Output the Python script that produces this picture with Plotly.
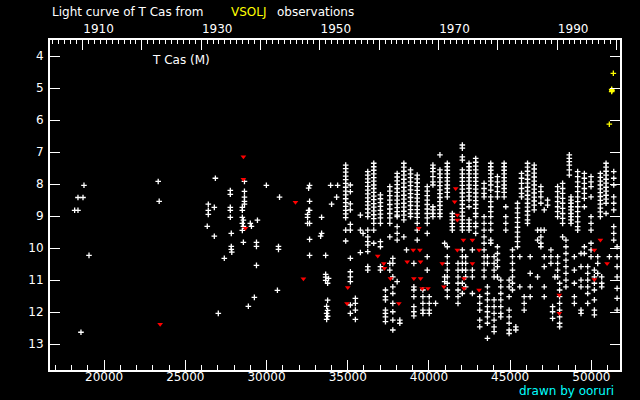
import plotly.graph_objects as go

# ---------------- data (JD - 2400000, visual magnitude) ----------------
early_jd = [18760, 18390, 18700, 18185, 18390, 19070, 18575,
            23330, 23390,
            26850, 26415, 26415, 26415, 26785, 26350, 26785, 27400, 27030,
            27770, 27770, 27770, 27770, 27770, 27830, 27830, 27830, 27860,
            28640, 28640, 28640, 28640, 28640, 28510, 28510, 28510, 28575, 28510, 28575, 28510, 28575,
            29000, 29070, 29440, 29380, 29380, 29380, 29250, 28880,
            29990, 30800, 30735, 30735, 30670,
            32650, 32590, 32650, 32590, 32650, 32525, 32525, 32525, 32650, 32650, 32650,
            33390, 33390, 33330, 33640,
            33945, 34375, 34315, 34005,
            33640, 33640, 33640, 33760, 33820,
            33760, 33700, 33760, 33700, 33760, 33700]
early_mag = [8.04, 8.42, 8.42, 8.82, 8.82, 10.23, 12.63,
             7.92, 8.54,
             7.82, 8.63, 8.82, 8.95, 8.73, 9.32, 9.63, 10.32, 12.04,
             8.20, 8.32, 8.73, 8.82, 9.04, 9.54, 9.95, 10.04, 10.13,
             7.92, 8.23, 8.41, 8.54, 8.63, 8.73, 8.82, 9.04, 9.13, 9.23, 9.32, 9.45, 9.82,
             9.23, 9.32, 9.13, 9.82, 9.95, 10.54, 11.54, 11.82,
             8.04, 8.41, 9.95, 10.04, 11.32,
             8.04, 8.13, 8.54, 8.82, 8.82, 8.95, 9.04, 9.23, 9.23, 9.73, 10.23,
             9.04, 9.54, 9.63, 10.23,
             8.04, 8.04, 8.41, 8.63,
             10.82, 10.91, 11.01, 11.10, 10.95,
             11.63, 11.82, 11.95, 12.04, 12.13, 12.23]

# observing seasons after 1954: (JD, magnitudes estimated that season)
seasons = [
    (34873, [7.41, 7.52, 7.63, 7.75, 7.86, 7.98, 8.10, 8.22, 8.34, 8.46, 8.58, 8.70, 8.82, 8.93, 9.05, 9.44, 9.78]),
    (35161, [8.03, 8.24, 8.62, 8.81, 9.26, 9.44, 10.32, 10.74, 10.90, 11.05, 11.78, 12.04]),
    (35470, [11.57, 11.73, 11.94, 12.23]),
    (35778, [8.97, 9.44, 10.14]),
    (35943, [9.54]),
    (36231, [7.61, 7.72, 7.84, 7.95, 8.07, 8.19, 8.31, 8.43, 8.55, 8.66, 8.78, 8.90, 9.02, 9.44, 9.65, 9.80, 9.91, 10.11, 10.58, 10.69]),
    (36601, [7.35, 7.46, 7.57, 7.68, 7.80, 7.91, 8.03, 8.14, 8.26, 8.38, 8.49, 8.61, 8.72, 8.84, 8.96, 9.08, 9.23, 9.44, 9.85]),
    (37013, [8.34, 8.46, 8.58, 8.70, 8.82, 8.94, 9.06, 9.23, 9.80, 9.96, 10.58, 10.69]),
    (37322, [11.31, 11.52, 11.62, 11.94, 12.04, 12.15, 12.30]),
    (37589, [8.08, 8.22, 8.36, 8.50, 8.64, 8.78, 8.92, 9.06, 9.23, 9.65, 10.48, 10.69]),
    (37774, [10.32, 10.48, 10.90, 11.21, 11.42, 11.73, 11.99, 12.25, 12.56]),
    (38042, [7.67, 7.78, 7.90, 8.02, 8.14, 8.26, 8.38, 8.50, 8.62, 8.74, 8.86, 8.97, 9.02, 9.33, 9.54, 9.75, 11.05]),
    (38207, [12.25, 12.35]),
    (38454, [7.35, 7.47, 7.60, 7.72, 7.85, 7.97, 8.10, 8.22, 8.35, 8.47, 8.60, 8.72, 8.85, 8.97, 9.12, 9.65]),
    (38618, [10.06]),
    (38865, [7.56, 7.68, 7.80, 7.93, 8.05, 8.18, 8.30, 8.42, 8.55, 8.67, 8.80, 8.92, 9.02]),
    (39071, [10.48, 11.21, 11.31, 11.52, 11.83, 11.99, 12.12]),
    (39277, [7.72, 7.84, 7.96, 8.08, 8.20, 8.32, 8.44, 8.56, 8.68, 8.80, 8.92, 9.04, 9.23, 9.44, 9.75]),
    (39627, [11.31, 11.52, 11.73, 11.94, 12.04]),
    (39894, [8.08, 8.22, 8.36, 8.50, 8.64, 8.78, 8.92, 9.06, 9.23, 9.54, 10.27, 10.69]),
    (40018, [11.52, 11.73, 11.94, 12.04]),
    (40244, [7.41, 7.51, 7.61, 7.77, 7.93, 8.03, 8.71, 8.81, 8.92, 9.02]),
    (40409, [11.73]),
    (40676, [7.09, 7.56, 7.68, 7.80, 7.93, 8.05, 8.18, 8.30, 8.42, 8.55, 8.67, 8.80, 8.92, 9.02]),
    (40964, [9.85, 10.90, 11.05]),
    (41129, [7.35, 7.46, 7.57, 7.68, 7.80, 7.91, 8.03, 8.14, 8.26, 8.40, 9.96, 10.27, 10.48, 10.69, 10.90, 11.10, 11.31, 11.52]),
    (41438, [8.92, 9.02, 9.12, 9.23, 9.33, 9.44]),
    (41788, [10.48, 10.69, 10.90, 11.10, 11.31, 11.52, 11.73]),
    (42055, [6.78, 6.88, 7.15, 7.25, 7.56, 7.68, 7.80, 7.92, 8.04, 8.16, 8.28, 8.40, 8.52, 8.64, 8.76, 8.88, 9.00, 9.12, 9.23, 9.33, 9.44,
             10.06, 10.27, 10.48, 10.69, 11.10, 11.42]),
    (42261, [10.27, 10.48, 10.69, 10.90, 11.21]),
    (42467, [7.35, 7.46, 7.57, 7.68, 7.80, 7.91, 8.03, 8.14, 8.26, 8.38, 8.50, 8.71, 9.12, 9.23, 9.33, 9.44]),
    (42673, [10.06, 10.69, 10.90, 11.42]),
    (42878, [7.20, 7.32, 7.44, 7.56, 7.68, 7.80, 7.92, 8.04, 8.16, 8.28, 8.40, 8.52, 8.64, 8.76, 8.92, 9.02, 9.23, 9.33, 9.54]),
    (43125, [11.52, 11.73, 11.94, 12.25, 12.46]),
    (43393, [7.98, 8.14, 8.29, 8.40, 9.02, 9.23, 9.44, 9.65, 9.85, 10.06, 10.27, 10.48, 10.69, 10.90]),
    (43599, [10.27, 10.48, 11.21, 11.42, 11.62, 11.83, 11.99, 12.15, 12.35, 12.82]),
    (43804, [7.35, 7.46, 7.57, 7.68, 7.80, 7.91, 8.03, 8.19, 8.40, 8.55, 8.71, 8.86, 9.02, 9.23, 9.44, 9.75, 9.85]),
    (44010, [10.27, 10.48, 10.69, 10.90, 11.62, 11.83, 12.04, 12.25, 12.46, 12.61]),
    (44216, [7.77, 7.93, 8.08, 8.24, 8.40, 9.96, 10.17, 10.38, 10.58, 10.90]),
    (44422, [11.00, 11.21, 11.42, 11.62, 11.83, 12.04, 12.15]),
    (44628, [7.35, 7.46, 7.57, 7.68, 7.80, 7.91, 8.03, 8.14, 8.26, 8.40]),
    (44730, [8.71, 9.02, 9.23, 9.44]),
    (44936, [11.00, 11.21, 11.52, 11.94, 12.15, 12.35, 12.56, 12.67]),
    (45142, [10.06, 10.27, 10.48, 10.69, 10.90, 11.10, 11.31]),
    (45348, [12.46, 12.56]),
    (45451, [8.60, 8.75, 8.90, 9.05, 9.20, 9.35, 9.50, 9.65, 9.80, 9.96]),
    (45595, [10.27, 11.21]),
    (45698, [7.67, 7.82, 7.98, 8.14, 8.29, 8.40]),
    (45862, [11.52, 11.73, 11.94]),
    (46068, [7.35, 7.47, 7.60, 7.72, 7.85, 7.97, 8.10, 8.22, 8.35, 8.47, 8.60, 8.72, 8.85, 8.97, 9.12, 9.23]),
    (46233, [10.27, 10.79, 11.21, 11.52]),
    (46480, [7.41, 7.53, 7.66, 7.78, 7.91, 8.03, 8.16, 8.28, 8.41, 8.53, 8.66, 8.81]),
    (46686, [9.44, 9.75, 10.90]),
    (46891, [8.08, 8.24, 8.40, 8.60, 9.44, 9.65, 9.85, 9.96]),
    (47097, [8.81, 9.44, 10.27, 10.58, 11.21, 11.52]),
    (47303, [8.50, 8.66]),
    (47509, [10.06, 10.27, 10.48]),
    (47612, [11.83, 11.99, 12.20]),
    (47756, [10.90]),
    (47920, [8.08, 8.24, 8.40, 8.55, 8.71, 8.86, 9.02, 10.27, 10.48, 10.69, 10.90]),
    (48044, [11.10, 11.31, 11.52, 11.73, 11.94, 12.15, 12.35, 12.46]),
    (48229, [7.98, 8.14, 8.29, 8.45, 8.60, 8.76, 8.92, 9.07, 9.23, 9.65]),
    (48435, [9.75, 9.96, 10.17, 10.38, 10.58, 10.79, 11.00, 11.21]),
    (48641, [7.09, 7.20, 7.30, 7.41, 7.56, 7.72]),
    (48744, [8.40, 8.50, 8.60, 8.71, 8.81, 8.92, 9.02, 9.12, 9.23]),
    (48950, [10.27, 10.69, 11.10, 11.52, 11.73]),
    (49155, [7.61, 7.77, 7.93, 8.08, 8.24, 8.40, 8.55, 8.71, 8.86, 9.02, 9.18, 9.33, 9.44]),
    (49361, [10.17, 10.58, 11.00, 11.21, 11.94, 12.04]),
    (49567, [7.67, 7.82, 7.98, 8.14, 8.29, 8.45, 8.71, 9.96, 10.17]),
    (49773, [10.58, 10.79, 11.00, 11.21, 11.42, 11.73]),
    (49978, [7.77, 7.93, 8.08, 8.40, 9.02, 9.23, 9.44, 9.85, 10.06, 10.27]),
    (50184, [10.69, 10.90, 11.10, 11.31, 11.62, 11.94, 12.09]),
    (50390, [10.27, 10.48, 10.79]),
    (50554, [7.67, 7.79, 7.91, 8.03, 8.15, 8.27, 8.39, 8.51, 8.63, 8.75, 8.87, 9.02]),
    (50636, [10.90, 11.10, 11.21]),
    (50904, [7.35, 7.47, 7.60, 7.72, 7.85, 7.97, 8.10, 8.22, 8.35, 8.47, 8.60, 8.92]),
    (51110, [10.27]),
    (51377, [7.61, 7.82, 8.03, 8.40, 8.60, 8.81, 9.33, 9.54, 9.75]),
    (51583, [9.96, 10.27, 10.58, 10.90, 11.26, 11.57, 11.94]),
]

# "fainter than" estimates (red v)
limit_jd = [23450, 28575, 28575, 28700, 31780, 32270,
            35000, 34955, 36848, 37219, 37260, 37630, 38145, 38660, 39030, 39071,
            39380, 39440, 39483, 39483, 39586, 39936, 40820, 40923, 41644, 41582,
            41747, 41747, 41747, 42117, 42158, 42158, 42673, 42673, 43084, 43084,
            48023, 48023, 50184, 50184, 50554, 50966]
limit_mag = [12.38, 7.15, 7.85, 9.38, 8.57, 10.96,
             11.23, 11.73, 10.25, 10.48, 10.63, 10.95, 11.73, 10.43, 10.06, 10.95,
             9.38, 10.06, 10.43, 10.95, 11.26, 11.26, 10.48, 11.21, 8.14, 8.55,
             8.97, 9.12, 10.06, 9.75, 10.95, 11.26, 9.75, 10.48, 10.06, 11.31,
             11.47, 12.04, 10.06, 10.98, 9.75, 10.48]

# latest observations (yellow)
recent_jd = [51352, 51250, 51250, 51270, 51105]
recent_mag = [4.54, 5.04, 5.11, 5.08, 6.13]

# axes
jd_range = [16668, 51762]
mag_range = [13.81, 3.5]
jd_ticks = [20000, 25000, 30000, 35000, 40000, 45000, 50000]
mag_ticks = [4, 5, 6, 7, 8, 9, 10, 11, 12, 13]
year_ticks = [1910, 1920, 1930, 1940, 1950, 1960, 1970, 1980, 1990, 2000]
year_labels = ["1910", "", "1930", "", "1950", "", "1970", "", "1990", ""]

vis_jd = [jd for jd, mags in seasons for _ in mags]
vis_mag = [m for _, mags in seasons for m in mags]


def jd_to_year(jd):
    return 2000.0 + (jd - 51544.5) / 365.25


FONT = "DejaVu Sans"
fig = go.Figure()
fig.add_trace(go.Scatter(x=early_jd + vis_jd, y=early_mag + vis_mag, mode="markers",
                         marker=dict(symbol="cross-thin", size=4, color="white",
                                     line=dict(width=1.3, color="white")),
                         hoverinfo="skip", showlegend=False))
fig.add_trace(go.Scatter(x=limit_jd, y=limit_mag, mode="markers",
                         marker=dict(symbol="triangle-down", size=5, color="#ff0000", line=dict(width=0)),
                         hoverinfo="skip", showlegend=False))
fig.add_trace(go.Scatter(x=recent_jd, y=recent_mag, mode="markers",
                         marker=dict(symbol="cross-thin", size=4, color="#ffff00",
                                     line=dict(width=1.3, color="#ffff00")),
                         hoverinfo="skip", showlegend=False))
# invisible trace to activate top year axis
fig.add_trace(go.Scatter(x=[jd_to_year(jd_range[0])], y=[mag_range[0]], xaxis="x2",
                         mode="markers", marker=dict(opacity=0), hoverinfo="skip", showlegend=False))

axis_common = dict(showgrid=False, zeroline=False, showline=True, linecolor="white", linewidth=2,
                   ticks="inside", tickcolor="white", tickwidth=1,
                   tickfont=dict(family=FONT, size=12, color="white"))

fig.update_layout(
    width=640, height=400,
    margin=dict(l=50, r=20, t=40, b=30),
    paper_bgcolor="black", plot_bgcolor="black",
    xaxis=dict(range=jd_range, tickmode="array", tickvals=jd_ticks,
               ticktext=[str(v) for v in jd_ticks], ticklen=10, ticklabelstandoff=-5,
               minor=dict(dtick=1000, tick0=0, ticklen=5, ticks="inside", tickcolor="white"),
               **axis_common),
    xaxis2=dict(range=[jd_to_year(jd_range[0]), jd_to_year(jd_range[1])], overlaying="x", side="top",
                tickmode="array", tickvals=year_ticks, ticktext=year_labels, ticklen=10,
                ticklabelshift=16, ticklabelstandoff=0,
                minor=dict(dtick=1, tick0=1900, ticklen=4, ticks="inside", tickcolor="white"),
                **axis_common),
    yaxis=dict(range=mag_range, tickmode="array", tickvals=mag_ticks,
               ticktext=[str(v) for v in mag_ticks], ticklen=10, mirror="ticks",
               ticklabelstandoff=2, **axis_common),
    showlegend=False,
)

ann_font = dict(family=FONT, size=12, color="white")
fig.add_annotation(text="Light curve of T Cas from", xref="paper", yref="paper", x=0, y=1,
                   xanchor="left", yanchor="middle", yshift=28, showarrow=False, font=ann_font)
fig.add_annotation(text="VSOLJ", xref="paper", yref="paper", x=0, y=1, xshift=179,
                   xanchor="left", yanchor="middle", yshift=28, showarrow=False,
                   font=dict(family=FONT, size=12, color="#ffff00"))
fig.add_annotation(text="observations", xref="paper", yref="paper", x=0, y=1, xshift=225,
                   xanchor="left", yanchor="middle", yshift=28, showarrow=False, font=ann_font)
fig.add_annotation(text="T Cas (M)", xref="paper", yref="paper", x=0, y=1, xshift=100,
                   xanchor="left", yanchor="middle", yshift=-20, showarrow=False, font=ann_font)
fig.add_annotation(text="drawn by ooruri", xref="paper", yref="paper", x=1, y=0, xshift=-4,
                   xanchor="right", yanchor="middle", yshift=-21, showarrow=False,
                   font=dict(family=FONT, size=12, color="#00ffff"))

fig.write_html("out.html", config={"displayModeBar": False},
               post_script="document.body.style.margin='0';document.body.style.overflow='hidden';")
